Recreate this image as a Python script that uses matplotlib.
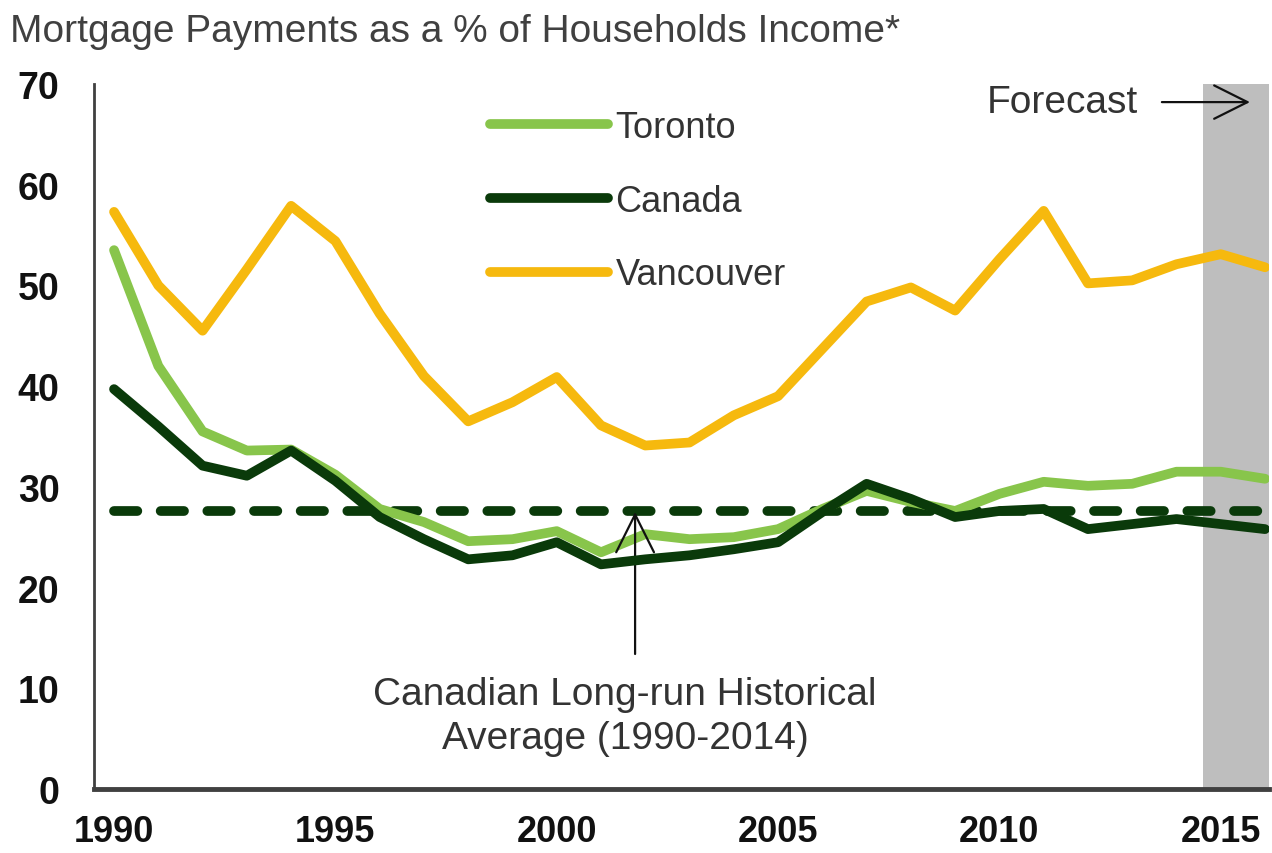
import numpy as np
import matplotlib
matplotlib.use("Agg")
import matplotlib.pyplot as plt

plt.rcParams['font.family'] = ['Liberation Sans', 'DejaVu Sans']

# mortgage payments as a share of household income (%), 2015-2016 are forecasts
years = list(range(1990, 2017))
toronto = [53.5, 42.0, 35.5, 33.6, 33.7, 31.2, 27.8, 26.5, 24.6, 24.8,
           25.6, 23.5, 25.3, 24.8, 25.0, 25.8, 27.8, 29.6, 28.5, 27.6,
           29.3, 30.5, 30.1, 30.3, 31.5, 31.5, 30.8]
canada = [39.7, 36.0, 32.1, 31.1, 33.6, 30.6, 27.0, 24.8, 22.8, 23.2,
          24.5, 22.3, 22.8, 23.2, 23.8, 24.5, 27.5, 30.3, 28.8, 27.0,
          27.6, 27.8, 25.8, 26.3, 26.8, 26.3, 25.8]
vancouver = [57.3, 50.0, 45.5, 51.6, 57.9, 54.4, 47.2, 41.0, 36.5, 38.4,
             40.9, 36.1, 34.1, 34.4, 37.1, 39.0, 43.7, 48.4, 49.8, 47.5,
             52.6, 57.4, 50.2, 50.5, 52.1, 53.1, 51.8]
long_run_avg = 27.6
forecast_start = 2014.6

c_toronto = '#88C54B'
c_canada = '#0A3A0A'
c_vancouver = '#F6B90E'
c_text = '#333333'

fig = plt.figure(figsize=(12.72, 8.54), dpi=100)
ax = fig.add_axes([0.074, 0.075, 0.924, 0.8255])

ax.axvspan(forecast_start, 2016.1, color='#BEBEBE', lw=0, zorder=0)

ax.plot(years, [long_run_avg] * len(years), color=c_canada, lw=7,
        linestyle=(0, (2.4, 2.4)), dash_capstyle='round', zorder=2)
ax.plot(years, toronto, color=c_toronto, lw=7, solid_joinstyle='round',
        solid_capstyle='round', label='Toronto', zorder=3)
ax.plot(years, canada, color=c_canada, lw=7, solid_joinstyle='round',
        solid_capstyle='round', label='Canada', zorder=4)
ax.plot(years, vancouver, color=c_vancouver, lw=7, solid_joinstyle='round',
        solid_capstyle='round', label='Vancouver', zorder=3)

ax.set_xlim(1989.55, 2016.1)
ax.set_ylim(0, 70)
ax.set_xticks([1990, 1995, 2000, 2005, 2010, 2015])
ax.set_yticks(range(0, 71, 10))
ax.tick_params(axis='y', length=0, pad=25, labelsize=27, labelcolor='#111111')
ax.tick_params(axis='x', length=0, pad=18, labelsize=26, labelcolor='#111111')
for lab in ax.get_xticklabels() + ax.get_yticklabels():
    lab.set_fontweight('bold')

for side in ('top', 'right'):
    ax.spines[side].set_visible(False)
ax.spines['left'].set_color('#404040')
ax.spines['left'].set_linewidth(2)
ax.spines['bottom'].set_color('#404040')
ax.spines['bottom'].set_linewidth(3.5)

leg = ax.legend(loc='upper left', bbox_to_anchor=(0.337, 0.963), frameon=False,
                fontsize=26, handlelength=3.25, handletextpad=0.22,
                labelspacing=1.07, borderaxespad=0, borderpad=0)
for txt in leg.get_texts():
    txt.set_color(c_text)

# arrow pointing up at the long-run average line
ax.annotate('', xy=(2001.77, long_run_avg - 0.1), xytext=(2001.77, 13.4),
            arrowprops=dict(arrowstyle='->', color='#111111', lw=1.6,
                            mutation_scale=68, shrinkA=0, shrinkB=0))
ax.text(2001.54, 7.2, 'Canadian Long-run Historical\nAverage (1990-2014)',
        ha='center', va='center', fontsize=28, color=c_text, linespacing=1.29)

ax.annotate('', xy=(2015.66, 68.2), xytext=(2013.67, 68.2),
            arrowprops=dict(arrowstyle='->', color='#111111', lw=1.6,
                            mutation_scale=60, shrinkA=0, shrinkB=0))
ax.text(2013.12, 68.2, 'Forecast', ha='right', va='center', fontsize=28,
        color=c_text)

fig.text(0.008, 0.963, 'Mortgage Payments as a % of Households Income*',
         ha='left', va='center', fontsize=28, color='#404040')

fig.savefig('out.png', dpi=100)
